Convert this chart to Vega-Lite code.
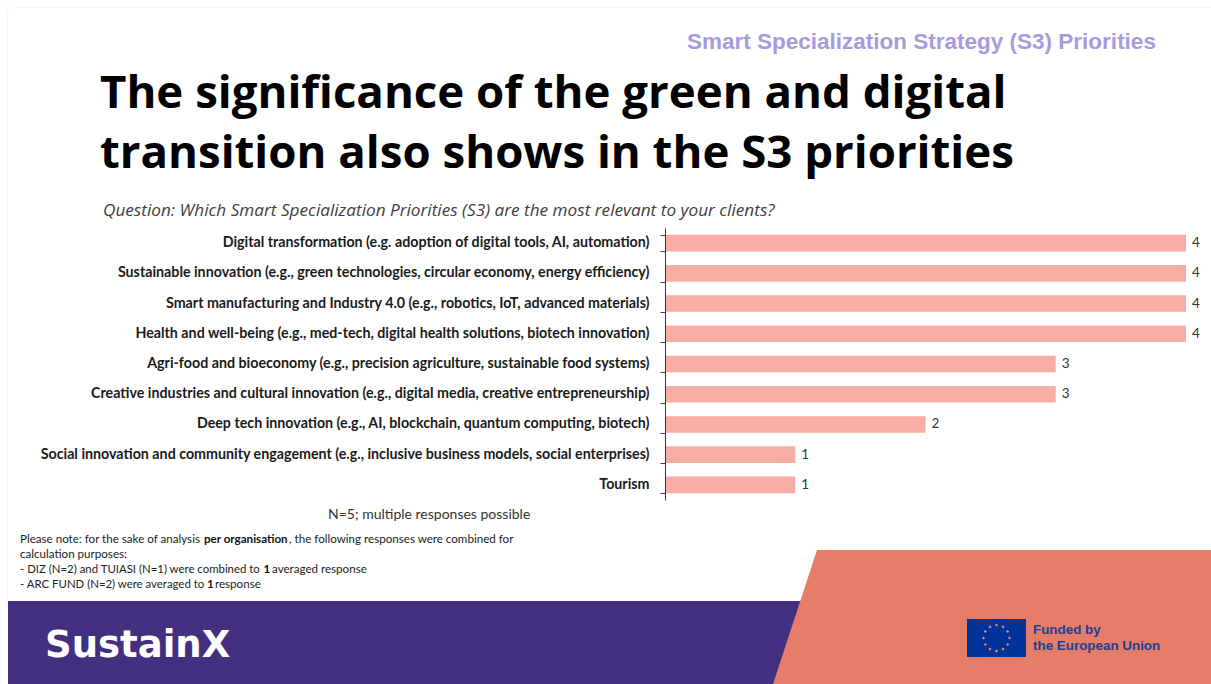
{
  "$schema": "https://vega.github.io/schema/vega-lite/v6.json",
  "width": 521,
  "height": 272,
  "autosize": "none",
  "padding": {"left": 665, "top": 228, "right": 25, "bottom": 184},
  "background": "#fefefe",
  "config": {"view": {"stroke": null}},
  "datasets": {
    "priorities": [
      {"priority": "Digital transformation (e.g. adoption of digital tools, AI, automation)", "count": 4},
      {"priority": "Sustainable innovation (e.g., green technologies, circular economy, energy efficiency)", "count": 4},
      {"priority": "Smart manufacturing and Industry 4.0 (e.g., robotics, IoT, advanced materials)", "count": 4},
      {"priority": "Health and well-being (e.g., med-tech, digital health solutions, biotech innovation)", "count": 4},
      {"priority": "Agri-food and bioeconomy (e.g., precision agriculture, sustainable food systems)", "count": 3},
      {"priority": "Creative industries and cultural innovation (e.g., digital media, creative entrepreneurship)", "count": 3},
      {"priority": "Deep tech innovation (e.g., AI, blockchain, quantum computing, biotech)", "count": 2},
      {"priority": "Social innovation and community engagement (e.g., inclusive business models, social enterprises)", "count": 1},
      {"priority": "Tourism", "count": 1}
    ]
  },
  "data": {"name": "priorities"},
  "layer": [
    {
      "description": "Slide furniture, placed on a page-sized coordinate system",
      "data": {"values": [{}]},
      "encoding": {
        "x": {"type": "quantitative", "axis": null, "scale": {"domain": [0, 1211], "range": [-665, 546]}},
        "y": {"type": "quantitative", "axis": null, "scale": {"domain": [0, 684], "range": [-228, 456]}}
      },
      "layer": [
        {
          "mark": {"type": "rect", "fill": "#ffffff", "stroke": "#f6f6f6", "strokeWidth": 1, "cornerRadius": 6},
          "encoding": {
            "x": {"datum": 7.5, "type": "quantitative"}, "x2": {"datum": 1230},
            "y": {"datum": 7.5, "type": "quantitative"}, "y2": {"datum": 610}
          }
        },
        {
          "mark": {"type": "rect", "color": "#432f80"},
          "encoding": {
            "x": {"datum": 8, "type": "quantitative"}, "x2": {"datum": 805},
            "y": {"datum": 601, "type": "quantitative"}, "y2": {"datum": 684}
          }
        },
        {
          "mark": {"type": "point", "filled": true, "opacity": 1, "color": "#e67d68", "size": 4,
                   "shape": "M 44 -67 L 438 -67 L 438 67 L 0 67 Z"},
          "encoding": {
            "x": {"datum": 773, "type": "quantitative"},
            "y": {"datum": 617, "type": "quantitative"}
          }
        },
        {
          "mark": {"type": "rect", "color": "#003399"},
          "encoding": {
            "x": {"datum": 967, "type": "quantitative"}, "x2": {"datum": 1026},
            "y": {"datum": 619, "type": "quantitative"}, "y2": {"datum": 657}
          }
        },
        {
          "description": "Twelve stars of the EU flag, drawn as small diamonds in one ring",
          "mark": {"type": "point", "filled": true, "opacity": 1, "color": "#e58a70", "size": 4,
                   "shape": "M 0 -14.6 l 1.6 1.6 l -1.6 1.6 l -1.6 -1.6 Z M 6.5 -12.7 l 1.6 1.6 l -1.6 1.6 l -1.6 -1.6 Z M 11.2 -8.1 l 1.6 1.6 l -1.6 1.6 l -1.6 -1.6 Z M 13 -1.6 l 1.6 1.6 l -1.6 1.6 l -1.6 -1.6 Z M 11.2 4.9 l 1.6 1.6 l -1.6 1.6 l -1.6 -1.6 Z M 6.5 9.5 l 1.6 1.6 l -1.6 1.6 l -1.6 -1.6 Z M 0 11.4 l 1.6 1.6 l -1.6 1.6 l -1.6 -1.6 Z M -6.5 9.5 l 1.6 1.6 l -1.6 1.6 l -1.6 -1.6 Z M -11.2 4.9 l 1.6 1.6 l -1.6 1.6 l -1.6 -1.6 Z M -13 -1.6 l 1.6 1.6 l -1.6 1.6 l -1.6 -1.6 Z M -11.2 -8.1 l 1.6 1.6 l -1.6 1.6 l -1.6 -1.6 Z M -6.5 -12.7 l 1.6 1.6 l -1.6 1.6 l -1.6 -1.6 Z"},
          "encoding": {
            "x": {"datum": 996.5, "type": "quantitative"},
            "y": {"datum": 638, "type": "quantitative"}
          }
        },
        {
          "mark": {"type": "text", "align": "left", "baseline": "alphabetic", "font": "Liberation Sans", "fontWeight": "bold", "fontSize": 13.4, "color": "#1c3f94", "text": "Funded by"},
          "encoding": {"x": {"datum": 1033, "type": "quantitative"}, "y": {"datum": 634, "type": "quantitative"}}
        },
        {
          "mark": {"type": "text", "align": "left", "baseline": "alphabetic", "font": "Liberation Sans", "fontWeight": "bold", "fontSize": 13.4, "color": "#1c3f94", "text": "the European Union"},
          "encoding": {"x": {"datum": 1033, "type": "quantitative"}, "y": {"datum": 650, "type": "quantitative"}}
        },
        {
          "mark": {"type": "text", "align": "left", "baseline": "alphabetic", "font": "DejaVu Sans", "fontWeight": "bold", "fontSize": 37, "color": "#ffffff", "text": "SustainX"},
          "encoding": {"x": {"datum": 45, "type": "quantitative"}, "y": {"datum": 657, "type": "quantitative"}}
        },
        {
          "mark": {"type": "text", "align": "left", "baseline": "alphabetic", "font": "Liberation Sans", "fontWeight": "bold", "fontSize": 22.5, "color": "#a79bdd", "text": "Smart Specialization Strategy (S3) Priorities"},
          "encoding": {"x": {"datum": 687, "type": "quantitative"}, "y": {"datum": 49, "type": "quantitative"}}
        },
        {
          "mark": {"type": "text", "align": "left", "baseline": "alphabetic", "font": "Open Sans", "fontWeight": "bold", "fontSize": 45.6, "color": "#000000", "text": "The significance of the green and digital"},
          "encoding": {"x": {"datum": 100, "type": "quantitative"}, "y": {"datum": 108, "type": "quantitative"}}
        },
        {
          "mark": {"type": "text", "align": "left", "baseline": "alphabetic", "font": "Open Sans", "fontWeight": "bold", "fontSize": 45.6, "color": "#000000", "text": "transition also shows in the S3 priorities"},
          "encoding": {"x": {"datum": 100, "type": "quantitative"}, "y": {"datum": 168, "type": "quantitative"}}
        },
        {
          "mark": {"type": "text", "align": "left", "baseline": "alphabetic", "font": "Open Sans", "fontStyle": "italic", "fontSize": 17.2, "color": "#404040", "text": "Question: Which Smart Specialization Priorities (S3) are the most relevant to your clients?"},
          "encoding": {"x": {"datum": 103, "type": "quantitative"}, "y": {"datum": 216, "type": "quantitative"}}
        },
        {
          "mark": {"type": "text", "align": "left", "baseline": "alphabetic", "font": "Lato", "fontSize": 14, "color": "#333333", "text": "N=5; multiple responses possible"},
          "encoding": {"x": {"datum": 328, "type": "quantitative"}, "y": {"datum": 519, "type": "quantitative"}}
        },
        {
          "mark": {"type": "text", "align": "left", "baseline": "alphabetic", "font": "Lato", "fontSize": 11.6, "color": "#222222", "text": "Please note: for the sake of analysis"},
          "encoding": {"x": {"datum": 20, "type": "quantitative"}, "y": {"datum": 543, "type": "quantitative"}}
        },
        {
          "mark": {"type": "text", "align": "left", "baseline": "alphabetic", "font": "Lato", "fontWeight": "bold", "fontSize": 11.6, "color": "#111111", "text": "per organisation"},
          "encoding": {"x": {"datum": 204, "type": "quantitative"}, "y": {"datum": 543, "type": "quantitative"}}
        },
        {
          "mark": {"type": "text", "align": "left", "baseline": "alphabetic", "font": "Lato", "fontSize": 11.6, "color": "#222222", "text": ", the following responses were combined for"},
          "encoding": {"x": {"datum": 289, "type": "quantitative"}, "y": {"datum": 543, "type": "quantitative"}}
        },
        {
          "mark": {"type": "text", "align": "left", "baseline": "alphabetic", "font": "Lato", "fontSize": 11.6, "color": "#222222", "text": "calculation purposes:"},
          "encoding": {"x": {"datum": 20, "type": "quantitative"}, "y": {"datum": 558, "type": "quantitative"}}
        },
        {
          "mark": {"type": "text", "align": "left", "baseline": "alphabetic", "font": "Lato", "fontSize": 11.4, "color": "#222222", "text": "- DIZ (N=2) and TUIASI (N=1) were combined to"},
          "encoding": {"x": {"datum": 20, "type": "quantitative"}, "y": {"datum": 573, "type": "quantitative"}}
        },
        {
          "mark": {"type": "text", "align": "left", "baseline": "alphabetic", "font": "Lato", "fontWeight": "bold", "fontSize": 11.6, "color": "#111111", "text": "1"},
          "encoding": {"x": {"datum": 263.5, "type": "quantitative"}, "y": {"datum": 573, "type": "quantitative"}}
        },
        {
          "mark": {"type": "text", "align": "left", "baseline": "alphabetic", "font": "Lato", "fontSize": 11.6, "color": "#222222", "text": "averaged response"},
          "encoding": {"x": {"datum": 272, "type": "quantitative"}, "y": {"datum": 573, "type": "quantitative"}}
        },
        {
          "mark": {"type": "text", "align": "left", "baseline": "alphabetic", "font": "Lato", "fontSize": 11.4, "color": "#222222", "text": "- ARC FUND (N=2) were averaged to"},
          "encoding": {"x": {"datum": 20, "type": "quantitative"}, "y": {"datum": 588, "type": "quantitative"}}
        },
        {
          "mark": {"type": "text", "align": "left", "baseline": "alphabetic", "font": "Lato", "fontWeight": "bold", "fontSize": 11.6, "color": "#111111", "text": "1"},
          "encoding": {"x": {"datum": 207, "type": "quantitative"}, "y": {"datum": 588, "type": "quantitative"}}
        },
        {
          "mark": {"type": "text", "align": "left", "baseline": "alphabetic", "font": "Lato", "fontSize": 11.6, "color": "#222222", "text": "response"},
          "encoding": {"x": {"datum": 215, "type": "quantitative"}, "y": {"datum": 588, "type": "quantitative"}}
        }
      ]
    },
    {
      "description": "Priorities ranked by number of organisations",
      "encoding": {
        "y": {
          "field": "priority", "type": "nominal", "sort": null, "title": null,
          "scale": {"paddingInner": 0.45, "paddingOuter": 0.225},
          "axis": {
            "orient": "left", "zindex": 1, "tickBand": "extent", "tickSize": 5, "tickColor": "#444444",
            "domain": true, "domainColor": "#333333", "domainWidth": 1,
            "grid": false, "labelFont": "Lato", "labelFontWeight": "bold", "labelFontSize": 14.25, "labelColor": "#1a1a1a",
            "labelPadding": 11, "labelLimit": 700, "labelOffset": -0.5
          }
        },
        "x": {
          "field": "count", "type": "quantitative", "axis": null,
          "scale": {"domain": [0, 4], "nice": false, "zero": true}
        }
      },
      "layer": [
        {"mark": {"type": "bar", "color": "#f8ada4"}},
        {
          "mark": {"type": "text", "align": "left", "baseline": "middle", "dx": 6, "font": "Lato", "fontSize": 13.5, "color": "#333333"},
          "encoding": {"text": {"field": "count", "type": "quantitative"}}
        }
      ]
    }
  ],
  "resolve": {"scale": {"x": "independent", "y": "independent"}}
}
